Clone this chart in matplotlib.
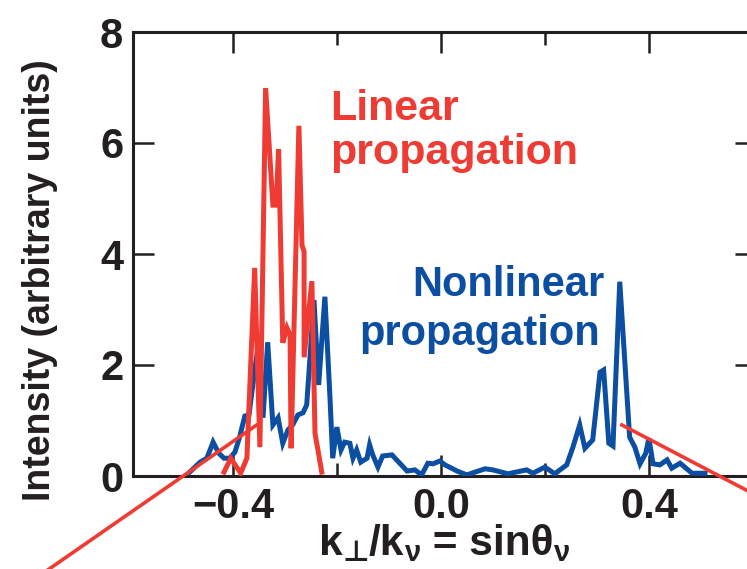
import matplotlib
matplotlib.use("Agg")
import matplotlib.pyplot as plt
from matplotlib.ticker import FixedLocator

plt.rcParams['font.family'] = ['Liberation Sans', 'DejaVu Sans']
plt.rcParams['font.weight'] = 'bold'

# Nonlinear propagation spectrum (k_perp/k_nu, intensity)
nonlinear_k = [-0.483, -0.463, -0.450, -0.438, -0.427, -0.417, -0.406, -0.396, -0.387, -0.377,
               -0.369, -0.358, -0.350, -0.342, -0.333, -0.323, -0.313, -0.304, -0.294, -0.285,
               -0.275, -0.265, -0.258, -0.244, -0.235, -0.223, -0.213, -0.208, -0.200, -0.192,
               -0.185, -0.175, -0.169, -0.162, -0.154, -0.142, -0.137, -0.131, -0.121, -0.112,
               -0.094, -0.085, -0.065, -0.050, -0.037, -0.025, -0.015, -0.002, 0.008, 0.031,
               0.050, 0.085, 0.100, 0.129, 0.165, 0.177, 0.200, 0.219, 0.242, 0.254,
               0.267, 0.277, 0.292, 0.306, 0.313, 0.323, 0.331, 0.344, 0.363, 0.373,
               0.383, 0.394, 0.400, 0.408, 0.421, 0.435, 0.444, 0.460, 0.483, 0.508]
nonlinear_I = [0.07, 0.25, 0.32, 0.61, 0.41, 0.32, 0.32, 0.43, 0.70, 1.08,
               1.10, 1.91, 2.41, 1.05, 2.41, 0.92, 1.05, 0.59, 0.83, 0.92,
               1.10, 1.14, 1.28, 3.17, 1.64, 3.23, 1.37, 0.32, 0.88, 0.47,
               0.61, 0.59, 0.32, 0.47, 0.25, 0.32, 0.56, 0.38, 0.16, 0.36,
               0.38, 0.29, 0.09, 0.11, 0.02, 0.23, 0.22, 0.27, 0.20, 0.09,
               0.02, 0.13, 0.11, 0.04, 0.11, 0.05, 0.16, 0.04, 0.20, 0.52,
               0.92, 0.50, 0.65, 1.87, 1.91, 0.59, 0.54, 3.50, 0.70, 0.52,
               0.22, 0.41, 0.68, 0.22, 0.20, 0.29, 0.14, 0.23, 0.05, 0.05]

# Linear propagation spectrum
linear_k = [-0.417, -0.404, -0.385, -0.373, -0.358, -0.348, -0.337, -0.323, -0.317, -0.312,
            -0.304, -0.296, -0.290, -0.288, -0.273, -0.267, -0.263, -0.263, -0.248, -0.242,
            -0.229]
linear_I = [0.07, 0.32, 0.05, 0.32, 3.75, 0.52, 6.99, 4.88, 4.88, 5.89,
            2.40, 2.67, 2.54, 0.50, 6.31, 4.16, 4.04, 2.14, 3.51, 0.77,
            0.07]

# Guide lines leading out of the frame
guide_left_k = [-0.354, -0.80]
guide_left_I = [0.92, -1.98]
guide_right_k = [0.348, 0.613]
guide_right_I = [0.92, -0.38]

x_major = [-0.4, 0.0, 0.4]
x_minor = [-0.2, 0.2]
x_labels = ['\u22120.4', '0.0', '0.4']
y_major = [0, 2, 4, 6, 8]

# x-axis title as (text, is_subscript) pieces: k⊥/kν = sinθν
xtitle_parts = [('k', False), ('\u22a5', True), ('/k', False), ('\u03bd', True),
                (' = sin\u03b8', False), ('\u03bd', True)]

RED = '#EE3B33'
BLUE = '#0B4EA2'
INK = '#231F20'
W, H = 747, 569

fig = plt.figure(figsize=(W / 100, H / 100), dpi=100)
ax = fig.add_axes([133 / W, 93 / H, 623 / W, 444 / H])

ax.plot(nonlinear_k, nonlinear_I, color=BLUE, lw=3.6, solid_joinstyle='miter', zorder=3)
ax.plot(linear_k, linear_I, color=RED, lw=3.6, solid_joinstyle='miter', zorder=4)
ax.plot(guide_left_k, guide_left_I, color=RED, lw=2.6, clip_on=False, zorder=5)
ax.plot(guide_right_k, guide_right_I, color=RED, lw=2.6, clip_on=False, zorder=5)

ax.set_xlim(-0.592, 0.606)
ax.set_ylim(0, 8)

ax.xaxis.set_major_locator(FixedLocator(x_major))
ax.xaxis.set_minor_locator(FixedLocator(x_minor))
ax.yaxis.set_major_locator(FixedLocator(y_major))
ax.set_xticklabels(x_labels)

for s in ax.spines.values():
    s.set_linewidth(2.2)
    s.set_color(INK)

ax.tick_params(axis='both', which='major', direction='in', length=15, width=1.8,
               color=INK, labelsize=30, labelcolor=INK, top=True, right=True)
ax.tick_params(axis='x', which='major', pad=8)
ax.tick_params(axis='y', which='major', pad=7)
ax.tick_params(axis='x', which='minor', direction='in', length=9.5, width=1.8,
               color=INK, top=True)
for lab in ax.get_xticklabels() + ax.get_yticklabels():
    lab.set_fontweight('bold')

ax.text(-0.213, 6.22, 'Linear\npropagation', color=RED, fontsize=31,
        fontweight='bold', ha='left', va='center', linespacing=1.13)
ax.text(0.315, 3.45, 'Nonlinear', color=BLUE, fontsize=30, fontweight='bold',
        ha='right', va='center')
ax.text(0.306, 2.55, 'propagation', color=BLUE, fontsize=30, fontweight='bold',
        ha='right', va='center')

# x-axis title assembled piece by piece so the subscripts sit lower and smaller
renderer = fig.canvas.get_renderer()
main_size, sub_size, sub_drop = 30.5, 21, 6
baseline_px = H - 555
pieces = []
for txt, is_sub in xtitle_parts:
    t = fig.text(0, 0, txt, fontsize=sub_size if is_sub else main_size,
                 fontweight='bold', color=INK, va='baseline', ha='left',
                 family=['Liberation Sans', 'DejaVu Sans'])
    w = t.get_window_extent(renderer).width
    pieces.append((t, w, is_sub))
total = sum(w for _, w, _ in pieces)
x = 444 - total / 2
for t, w, is_sub in pieces:
    y = baseline_px - (sub_drop if is_sub else 0)
    t.set_position((x / W, y / H))
    x += w

fig.text(40 / W, 1 - 280 / H, 'Intensity (arbitrary units)', rotation=90,
         ha='center', va='center', fontsize=27, fontweight='bold', color=INK)

fig.savefig('out.png', dpi=100)
